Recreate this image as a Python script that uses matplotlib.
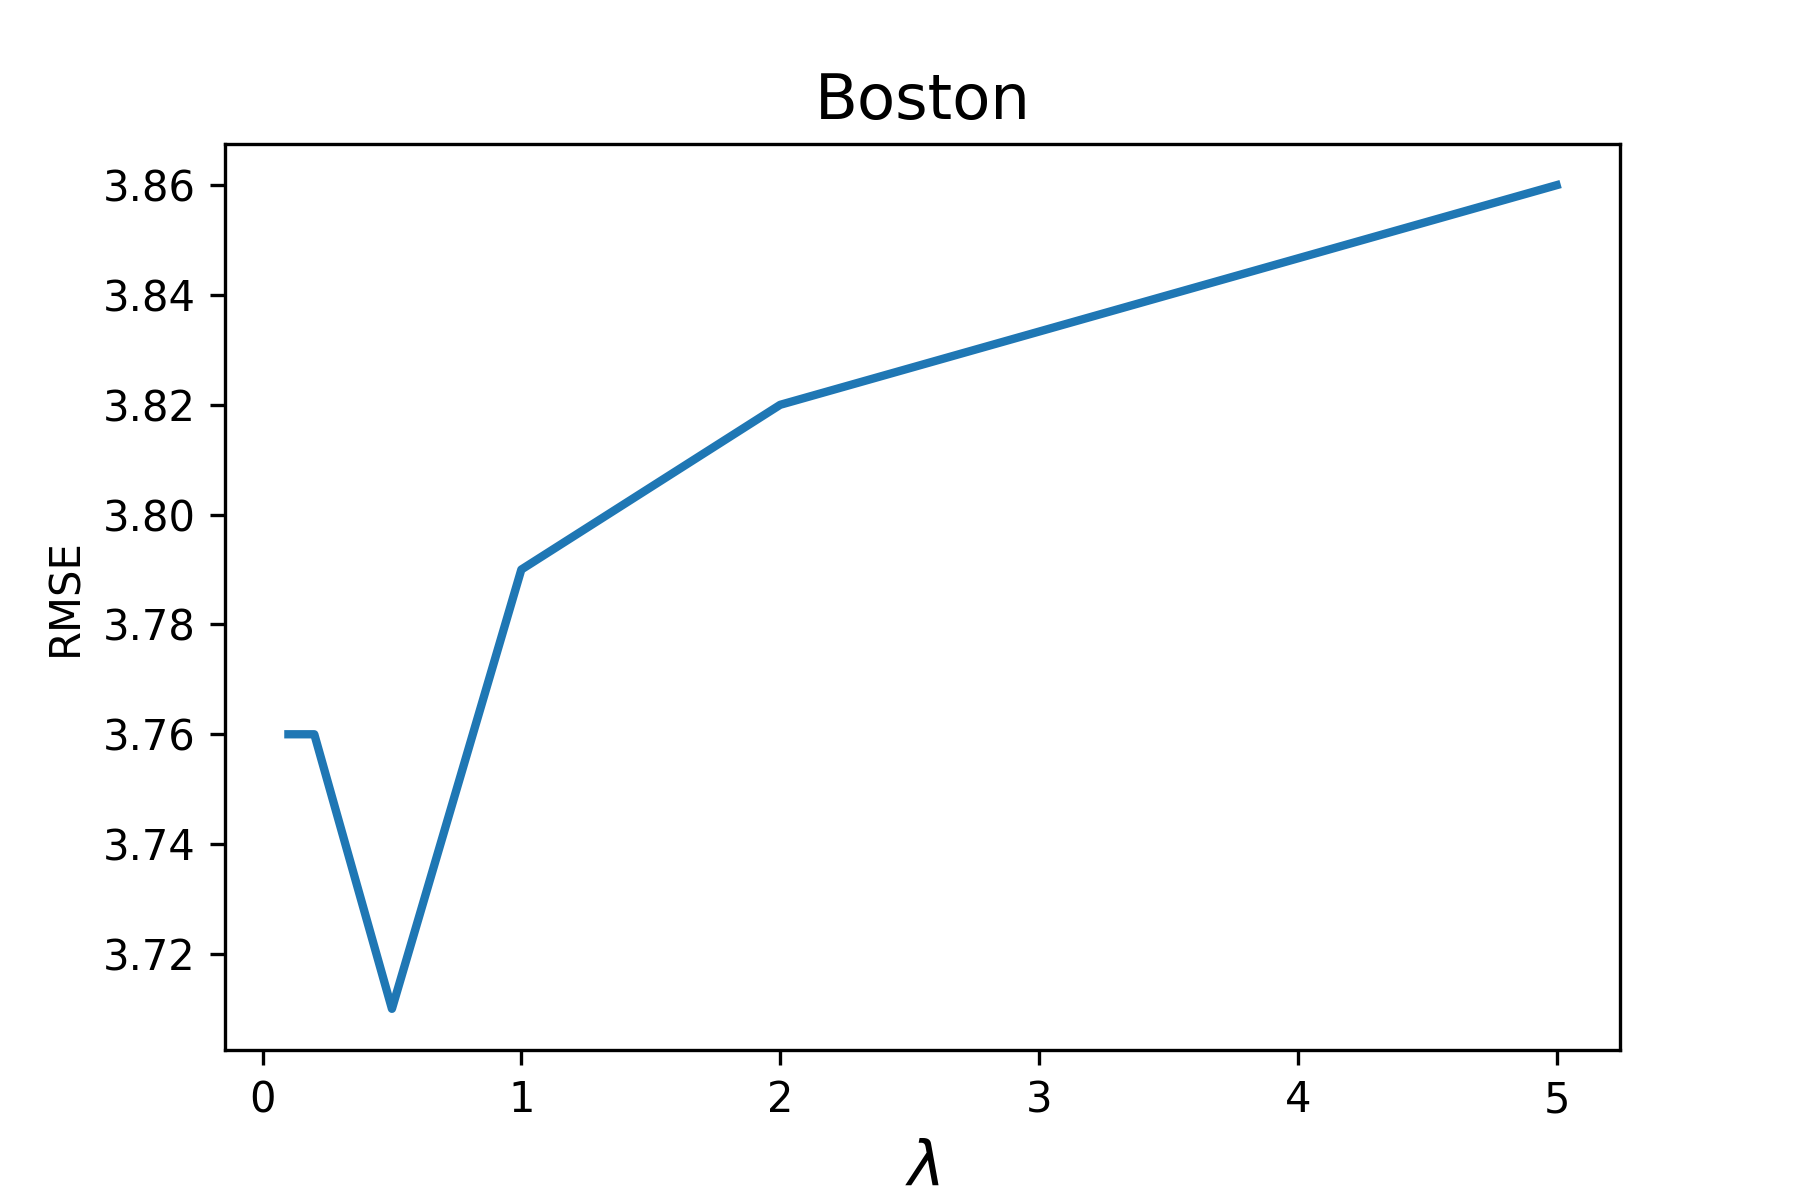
import matplotlib
matplotlib.use('Agg')
import matplotlib.pyplot as plt

# lambda values and RMSE
lambdas = [0.1, 0.2, 0.5, 1, 2, 5]
rmse = [3.76, 3.76, 3.71, 3.79, 3.82, 3.86]

fig = plt.figure(figsize=(6, 4), dpi=300)
plt.plot(lambdas, rmse, linewidth=2)
plt.title('Boston', fontsize=15)
plt.xlabel(r'$\lambda$', fontsize=15)
plt.ylabel('RMSE')
plt.subplots_adjust(bottom=0.125)
plt.savefig('out.png', dpi=300)
plt.close()
